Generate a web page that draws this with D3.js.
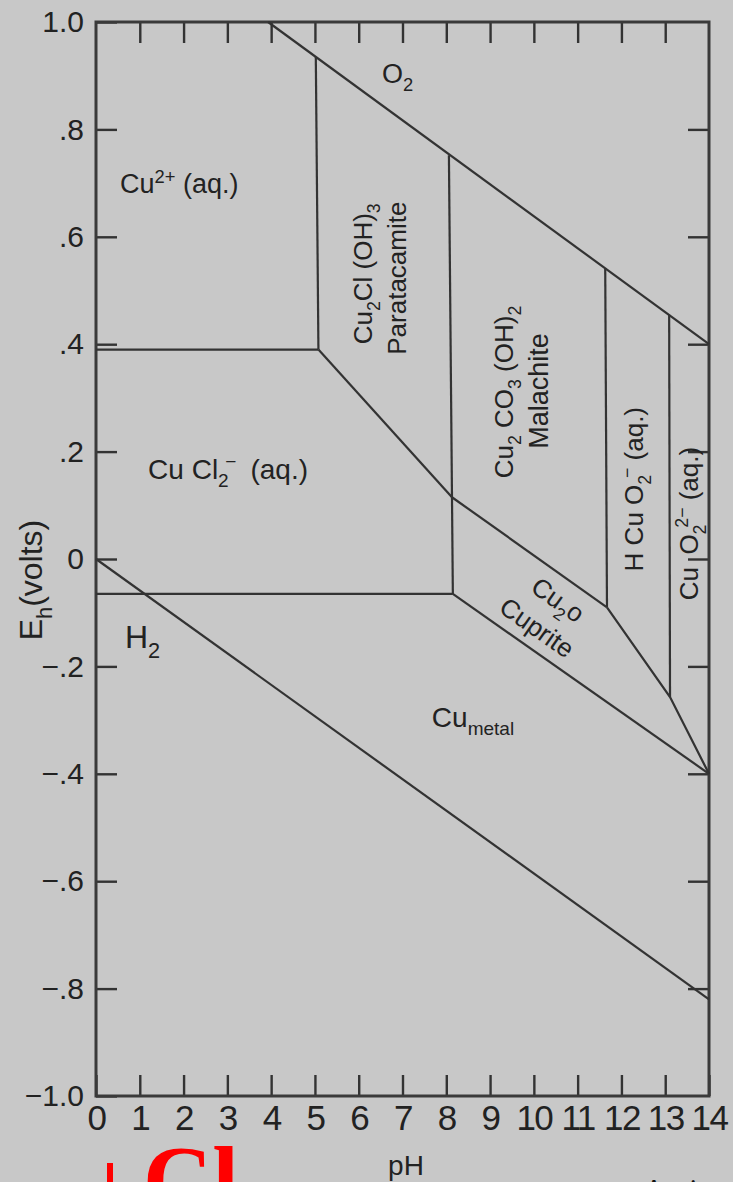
<!DOCTYPE html>
<html>
<head>
<meta charset="utf-8">
<script src="https://cdn.jsdelivr.net/npm/d3@7"></script>
<style>
	html, body { margin: 0; padding: 0; background: #c8c8c8; }
	svg { display: block; }
	text { font-family: "Liberation Sans", Arial, Helvetica, sans-serif; fill: #222; }
</style>
</head>
<body>
<div id="chart"></div>
<script>

// ticks
var phTicks = [0, 1, 2, 3, 4, 5, 6, 7, 8, 9, 10, 11, 12, 13, 14];
var ehTicks = [1.0, 0.8, 0.6, 0.4, 0.2, 0, -0.2, -0.4, -0.6, -0.8, -1.0];
var ehTickLabels = ["1.0", ".8", ".6", ".4", ".2", "0", "\u2212.2", "\u2212.4", "\u2212.6", "\u2212.8", "\u22121.0"];

// water stability limits [pH, Eh]
var o2Line = [[3.93, 1.0], [14, 0.40]];
var h2Line = [[0, 0], [14, -0.82]];

// field boundaries [pH, Eh]
var cu2CuCl2 = [[0, 0.39], [5.08, 0.39]];
var paratacamiteLeft = [[5.02, 0.935], [5.08, 0.39]];
var cuCl2Paratacamite = [[5.08, 0.39], [8.13, 0.115]];
var malachiteLeft = [[8.06, 0.752], [8.15, -0.065]];
var cuCl2Metal = [[0, -0.065], [8.15, -0.065]];
var malachiteCuprite = [[8.13, 0.115], [11.67, -0.09]];
var hcuo2Left = [[11.63, 0.541], [11.67, -0.09]];
var cuo2Left = [[13.09, 0.455], [13.11, -0.257]];
var hcuo2Metal = [[11.67, -0.09], [13.11, -0.257], [14, -0.40]];
var cupriteMetal = [[8.15, -0.065], [14, -0.40]];

var boundaries = [cu2CuCl2, paratacamiteLeft, cuCl2Paratacamite, malachiteLeft, cuCl2Metal,
	malachiteCuprite, hcuo2Left, cuo2Left, hcuo2Metal, cupriteMetal];

// field labels: parts are [text, "sub" | "sup" | ""], anchor in [pH, Eh]
var flatLabels = [
	{ at: [6.53, 0.886], size: 27, parts: [["O", ""], ["2", "sub"]] },
	{ at: [0.55, 0.682], size: 27, parts: [["Cu", ""], ["2+", "sup"], [" (aq.)", ""]] },
	{ at: [1.19, 0.149], size: 28, parts: [["Cu Cl", ""], ["2", "sub"], ["\u2212", "sup"], ["\u2002(aq.)", ""]] },
	{ at: [0.66, -0.166], size: 32, parts: [["H", ""], ["2", "sub"]] },
	{ at: [7.67, -0.313], size: 28, parts: [["Cu", ""], ["metal", "sub"]] }
];

var verticalLabels = [
	{ at: [6.30, 0.531], size: 26, parts: [["Cu", ""], ["2", "sub"], ["Cl (OH)", ""], ["3", "sub"]] },
	{ at: [7.08, 0.523], size: 26, parts: [["Paratacamite", ""]] },
	{ at: [9.52, 0.311], size: 26, parts: [["Cu", ""], ["2", "sub"], [" CO", ""], ["3", "sub"], [" (OH)", ""], ["2", "sub"]] },
	{ at: [10.32, 0.313], size: 27, parts: [["Malachite", ""]] },
	{ at: [12.49, 0.130], size: 26, parts: [["H Cu O", ""], ["2", "sub"], ["\u2212", "sup"], [" (aq.)", ""]] },
	{ at: [13.75, 0.066], size: 26, parts: [["Cu\u2009 O", ""], ["2", "sub"], ["2\u2212", "sup"], [" (aq.)", ""]] }
];

var slantLabels = [
	{ at: [10.55, -0.076], size: 26, parts: [["Cu", ""], ["2", "sub"], ["o", ""]] },
	{ at: [10.07, -0.128], size: 26, parts: [["Cuprite", ""]] }
];

var width = 733, height = 1182;

var x = d3.scaleLinear().domain([0, 14]).range([96, 709]);
var y = d3.scaleLinear().domain([-1, 1]).range([1096, 22]);

var svg = d3.select("#chart").append("svg")
	.attr("width", width)
	.attr("height", height);

svg.append("rect")
	.attr("width", width)
	.attr("height", height)
	.attr("fill", "#c8c8c8");

// writes text with sub/superscripts as tspans
function richText(sel, parts, size) {
	var shift = 0;
	parts.forEach(function(p, i) {
		var target = p[1] === "sub" ? size * 0.3 : p[1] === "sup" ? -size * 0.38 : 0;
		var ts = sel.append("tspan")
			.attr("dy", target - shift)
			.attr("font-size", p[1] ? size * 0.68 : size)
			.text(p[0]);
		if (p[1] === "sup" && i > 0 && parts[i - 1][1] === "sub") ts.attr("dx", -size * 0.12);
		shift = target;
	});
}

var line = d3.line()
	.x(function(d) { return x(d[0]); })
	.y(function(d) { return y(d[1]); });

var stroke = "#333";

// axes, ticks pointing inward
var bottom = svg.append("g")
	.attr("transform", "translate(0," + y(-1) + ")")
	.attr("color", "#222")
	.call(d3.axisBottom(x).tickValues(phTicks).tickSizeInner(-21).tickSizeOuter(0).tickPadding(9));

bottom.selectAll("text")
	.attr("font-size", 35)
	.attr("letter-spacing", -1.5);

var top = svg.append("g")
	.attr("transform", "translate(0," + y(1) + ")")
	.attr("color", "#222")
	.call(d3.axisTop(x).tickValues(phTicks.slice(1, -1)).tickSizeInner(-21).tickSizeOuter(0).tickFormat(""));

var left = svg.append("g")
	.attr("transform", "translate(" + x(0) + ",0)")
	.attr("color", "#222")
	.call(d3.axisLeft(y).tickValues(ehTicks).tickSizeInner(-21).tickSizeOuter(0).tickPadding(12)
		.tickFormat(function(d, i) { return ehTickLabels[i]; }));

left.selectAll("text")
	.attr("font-size", 30);

var right = svg.append("g")
	.attr("transform", "translate(" + x(14) + ",0)")
	.attr("color", "#222")
	.call(d3.axisRight(y).tickValues(ehTicks.slice(1, -1)).tickSizeInner(-21).tickSizeOuter(0).tickFormat(""));

svg.selectAll(".domain").remove();
svg.selectAll(".tick line").attr("stroke", stroke).attr("stroke-width", 2.4);

// frame
svg.append("rect")
	.attr("x", x(0))
	.attr("y", y(1))
	.attr("width", x(14) - x(0))
	.attr("height", y(-1) - y(1))
	.attr("fill", "none")
	.attr("stroke", "#3a3a3a")
	.attr("stroke-width", 3);

// water limits and field boundaries
svg.selectAll("path.limit")
	.data([o2Line, h2Line].concat(boundaries))
	.enter()
	.append("path")
		.attr("class", "limit")
		.attr("d", line)
		.attr("fill", "none")
		.attr("stroke", stroke)
		.attr("stroke-width", 2.2);

// labels
flatLabels.forEach(function(l) {
	var t = svg.append("text")
		.attr("x", x(l.at[0]))
		.attr("y", y(l.at[1]));
	richText(t, l.parts, l.size);
});

verticalLabels.forEach(function(l) {
	var t = svg.append("text")
		.attr("text-anchor", "middle")
		.attr("transform", "translate(" + x(l.at[0]) + "," + y(l.at[1]) + ") rotate(-90)");
	richText(t, l.parts, l.size);
});

slantLabels.forEach(function(l) {
	var t = svg.append("text")
		.attr("text-anchor", "middle")
		.attr("transform", "translate(" + x(l.at[0]) + "," + y(l.at[1]) + ") rotate(35) translate(0,9)");
	richText(t, l.parts, l.size);
});

// axis titles
var ehTitle = svg.append("text")
	.attr("text-anchor", "middle")
	.attr("transform", "translate(42,580) rotate(-90)");
richText(ehTitle, [["E", ""], ["h", "sub"], ["(volts)", ""]], 32);

svg.append("text")
	.attr("x", 406)
	.attr("y", 1175)
	.attr("text-anchor", "middle")
	.attr("font-size", 28)
	.text("pH");

// page fragments cut off at the bottom edge
svg.append("rect")
	.attr("x", 107)
	.attr("y", 1163)
	.attr("width", 6)
	.attr("height", 20)
	.attr("fill", "#ff0000");

svg.append("text")
	.attr("x", 143)
	.attr("y", 1212)
	.attr("font-size", 96)
	.style("font-family", "'Liberation Serif', 'Times New Roman', serif")
	.style("font-weight", "bold")
	.style("fill", "#ff0000")
	.text("Cl");

svg.append("text")
	.attr("x", 644)
	.attr("y", 1198)
	.attr("font-size", 28)
	.attr("letter-spacing", 8)
	.style("font-family", "'Liberation Serif', 'Times New Roman', serif")
	.style("fill", "#111")
	.text("Ari");

</script>
</body>
</html>
